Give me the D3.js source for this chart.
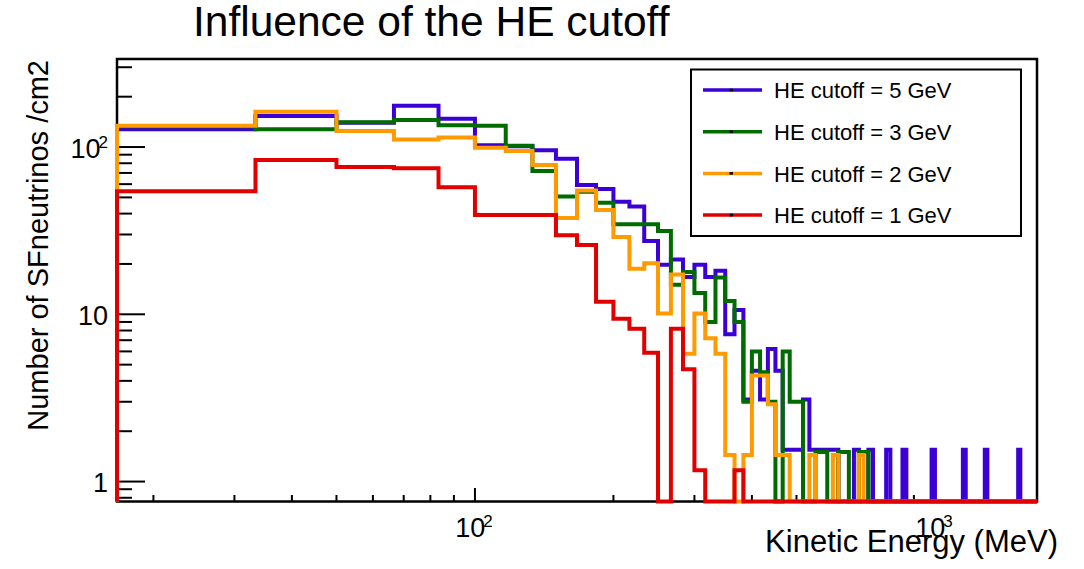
<!DOCTYPE html>
<meta charset="utf-8">
<style>

body {
  margin: 0;
  background: #fff;
}

text {
  font-family: "Liberation Sans", Arial, Helvetica, sans-serif;
  fill: #000;
}

.hist {
  fill: none;
  stroke-width: 4;
}

.frame {
  fill: none;
  stroke: #000;
  stroke-width: 2.5;
}

.tick {
  stroke: #000;
  stroke-width: 2;
}

</style>
<body>
</body>
<script src="https://d3js.org/d3.v7.min.js"></script>
<script>

// Histogram binning: 100 bins of 1000/60 MeV from 0, plotted from bin 1 on a log axis
var binWidth = 1000 / 60;
var nBins = 99;

// Bin contents (per cm2), one value per bin starting at bin 1, trailing empty bins left out
var cut5GeV = [127.7, 153.5, 139.8, 176.4, 147.4, 102.4, 101.0, 95.8, 85.1, 59.3,
               56.2, 47.1, 44.1, 27.4, 19.8, 21.3, 16.7, 19.8, 16.7, 18.2,
               7.6, 10.6, 3.1, 4.6, 3.1, 6.2, 4.6, 1.55, 1.55, 1.55,
               3.1, 1.55, 1.55, 1.55, 1.55, 1.55, 0, 0, 0, 1.55,
               0, 0, 1.55, 0, 0, 0, 1.55, 0, 0, 0,
               1.55, 0, 0, 0, 0, 0, 0, 0, 1.55, 0,
               0, 0, 0, 0, 0, 0, 0, 0, 1.55, 0,
               0, 0, 0, 0, 0, 0, 1.55, 0, 0, 0,
               0, 0, 0, 0, 0, 0, 0, 0, 0, 0,
               1.55];
var cut3GeV = [133.0, 127.6, 140.6, 145.0, 135.0, 134.0, 101.8, 72.0, 50.7, 54.0,
               46.4, 34.5, 34.5, 34.5, 31.5, 15.0, 17.9, 13.4, 9.0, 16.6,
               12.0, 9.0, 3.0, 6.0, 4.5, 3.0, 0, 6.0, 3.0, 3.0,
               0, 0, 1.5, 1.5, 0, 0, 1.5, 1.5, 0, 0,
               1.5, 1.5];
var cut2GeV = [134.0, 162.5, 124.7, 111.0, 114.0, 99.0, 94.6, 78.0, 37.7, 55.0,
               42.1, 29.0, 18.7, 20.2, 10.1, 17.3, 5.8, 10.1, 7.2, 5.8,
               1.44, 0, 1.44, 4.3, 4.3, 2.9, 1.44, 1.44, 0, 0,
               0, 1.44, 0, 0, 0, 1.44, 0, 0, 0, 0,
               1.44];
var cut1GeV = [54.5, 83.6, 75.9, 74.8, 57.4, 39.2, 39.2, 39.2, 29.7, 26.0,
               11.9, 9.4, 8.2, 5.9, 0, 8.2, 4.7, 1.17, 0, 0,
               0, 1.17];

var series = [
  {label: "HE cutoff = 5 GeV", color: "#3a00d6", values: cut5GeV},
  {label: "HE cutoff = 3 GeV", color: "#006c00", values: cut3GeV},
  {label: "HE cutoff = 2 GeV", color: "#ff9a00", values: cut2GeV},
  {label: "HE cutoff = 1 GeV", color: "#e00000", values: cut1GeV}
];

var xMinorTicks = [20, 30, 40, 50, 60, 70, 80, 90, 200, 300, 400, 500, 600, 700, 800, 900];
var xMajorTicks = [100, 1000];
var yMinorTicks = [0.8, 0.9, 2, 3, 4, 5, 6, 7, 8, 9, 20, 30, 40, 50, 60, 70, 80, 90, 200, 300];
var yMajorTicks = [1, 10, 100];

// Margin convention
var margin = {top: 59, right: 47, bottom: 67.5, left: 117}
  , width = 1084 - margin.left - margin.right
  , height = 569 - margin.top - margin.bottom;

var svg = d3.select("body").append("svg")
    .attr("width", width + margin.left + margin.right)
    .attr("height", height + margin.top + margin.bottom);

svg.append("text")
    .attr("x", 193)
    .attr("y", 36)
    .attr("font-size", 42.5)
    .text("Influence of the HE cutoff");

var g = svg.append("g")
    .attr("transform", "translate(" + margin.left + "," + margin.top + ")");

var x = d3.scaleLog()
    .domain([binWidth, (nBins + 1) * binWidth])
    .range([0, width]);

var y = d3.scaleLog()
    .domain([0.76, 336])
    .range([height, 0]);

// Frame
g.append("rect")
    .attr("class", "frame")
    .attr("width", width)
    .attr("height", height);

// Ticks point inwards like in ROOT
g.selectAll(".xminor")
  .data(xMinorTicks)
  .enter().append("line")
    .attr("class", "tick")
    .attr("x1", function(d) { return x(d); })
    .attr("x2", function(d) { return x(d); })
    .attr("y1", height)
    .attr("y2", height - 6.5);

g.selectAll(".xmajor")
  .data(xMajorTicks)
  .enter().append("line")
    .attr("class", "tick")
    .attr("x1", function(d) { return x(d); })
    .attr("x2", function(d) { return x(d); })
    .attr("y1", height)
    .attr("y2", height - 13.5);

g.selectAll(".yminor")
  .data(yMinorTicks)
  .enter().append("line")
    .attr("class", "tick")
    .attr("x1", 0)
    .attr("x2", 15)
    .attr("y1", function(d) { return y(d); })
    .attr("y2", function(d) { return y(d); });

g.selectAll(".ymajor")
  .data(yMajorTicks)
  .enter().append("line")
    .attr("class", "tick")
    .attr("x1", 0)
    .attr("x2", 28)
    .attr("y1", function(d) { return y(d); })
    .attr("y2", function(d) { return y(d); });

// Tick labels, powers of ten written as 10 + superscript
function powerLabel(sel, d) {
  var e = Math.round(Math.log10(d));
  if (e <= 1) {
    sel.text(d);
  } else {
    sel.append("tspan").text("10");
    sel.append("tspan")
        .attr("font-size", 17)
        .attr("dx", -2)
        .attr("dy", -10)
        .text(e);
  }
}

g.selectAll(".xlabel")
  .data(xMajorTicks)
  .enter().append("text")
    .attr("font-size", 27)
    .attr("text-anchor", "middle")
    .attr("x", function(d) { return x(d) - 1; })
    .attr("y", height + 35.5)
    .each(function(d) { powerLabel(d3.select(this), d); });

g.selectAll(".ylabel")
  .data(yMajorTicks)
  .enter().append("text")
    .attr("font-size", 27)
    .attr("text-anchor", "end")
    .attr("x", -9)
    .attr("y", function(d) { return y(d) + 10.5; })
    .each(function(d) { powerLabel(d3.select(this), d); });

// Axis titles
g.append("text")
    .attr("font-size", 31)
    .attr("text-anchor", "end")
    .attr("x", 941)
    .attr("y", 492.5)
    .text("Kinetic Energy (MeV)");

g.append("text")
    .attr("font-size", 29)
    .attr("text-anchor", "end")
    .attr("transform", "rotate(-90)")
    .attr("x", -1)
    .attr("y", -69)
    .text("Number of SFneutrinos /cm2");

// Histograms as step outlines; empty bins sit on the bottom of the frame
function stepPoints(values) {
  var pts = [[x(binWidth), height]];
  for (var i = 0; i < nBins; i++) {
    var v = i < values.length ? values[i] : 0;
    var yy = v > y.domain()[0] ? y(v) : height;
    pts.push([x((i + 1) * binWidth), yy]);
    pts.push([x((i + 2) * binWidth), yy]);
  }
  return pts;
}

var line = d3.line();

g.selectAll(".hist")
  .data(series)
  .enter().append("path")
    .attr("class", "hist")
    .attr("stroke", function(d) { return d.color; })
    .attr("d", function(d) { return line(stepPoints(d.values)); });

// Legend
var legend = svg.append("g")
    .attr("transform", "translate(691,69.5)");

legend.append("rect")
    .attr("width", 330)
    .attr("height", 166.5)
    .attr("fill", "#fff")
    .attr("stroke", "#000")
    .attr("stroke-width", 2);

var rows = legend.selectAll(".row")
  .data(series)
  .enter().append("g")
    .attr("transform", function(d, i) { return "translate(0," + (20.5 + i * 41.7) + ")"; });

rows.append("line")
    .attr("x1", 12)
    .attr("x2", 71)
    .attr("stroke", function(d) { return d.color; })
    .attr("stroke-width", 3.5);

rows.append("rect")
    .attr("x", 38.5)
    .attr("y", -1.3)
    .attr("width", 3.5)
    .attr("height", 2.6)
    .attr("fill", "#000");

rows.append("text")
    .attr("x", 83)
    .attr("y", 8.3)
    .attr("font-size", 22)
    .text(function(d) { return d.label; });

</script>
